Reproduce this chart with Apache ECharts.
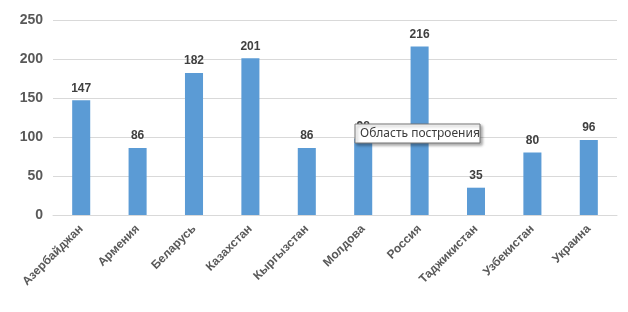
<!DOCTYPE html>
<html><head><meta charset="utf-8">
<script src="https://cdn.jsdelivr.net/npm/echarts@6/dist/echarts.min.js"></script>
<style>html,body{margin:0;padding:0;background:#fff}#c{width:628px;height:312px}</style>
</head><body><div id="c"></div>
<script>
const categories = ['Азербайджан','Армения','Беларусь','Казахстан','Кыргызстан','Молдова','Россия','Таджикистан','Узбекистан','Украина'];
const values = [147, 86, 182, 201, 86, 98, 216, 35, 80, 96];
const yTicks = [0, 50, 100, 150, 200, 250];

const chart = echarts.init(document.getElementById('c'), null, {renderer: 'canvas'});
chart.setOption({
  animation: false,
  grid: {left: 53, right: 11, top: 20, bottom: 97, containLabel: false},
  xAxis: {
    type: 'category', data: categories,
    axisLine: {lineStyle: {color: '#d9d9d9', width: 1}},
    axisTick: {show: false},
    axisLabel: {rotate: 45, interval: 0, color: '#595959', fontWeight: 'bold', fontSize: 12, fontFamily: 'Liberation Sans, Arial', margin: 12}
  },
  yAxis: {
    type: 'value', min: yTicks[0], max: yTicks[yTicks.length-1], interval: 50,
    axisLine: {show: false}, axisTick: {show: false},
    splitLine: {lineStyle: {color: '#d9d9d9', width: 1}},
    axisLabel: {color: '#595959', fontWeight: 'bold', fontSize: 14, fontFamily: 'Liberation Sans, Arial', margin: 10}
  },
  series: [{
    type: 'bar', data: values, barWidth: '32%',
    itemStyle: {color: '#5b9bd5'},
    label: {show: true, position: 'top', distance: 6, color: '#404040', fontWeight: 'bold', fontSize: 12, fontFamily: 'Liberation Sans, Arial'}
  }],
  graphic: [
    {type: 'rect', zlevel: 2, z: 100, x: 355, y: 124, shape: {x: 0, y: 0, width: 125, height: 19}, style: {fill: '#fff', stroke: '#767676', lineWidth: 1, shadowBlur: 3, shadowOffsetX: 2, shadowOffsetY: 2, shadowColor: 'rgba(0,0,0,0.35)'}},
    {type: 'text', zlevel: 2, z: 101, x: 360, y: 134, style: {text: 'Область построения', fill: '#3c3c3c', font: '12px "Noto Sans", "Open Sans", sans-serif', verticalAlign: 'middle'}}
  ]
});
</script></body></html>
